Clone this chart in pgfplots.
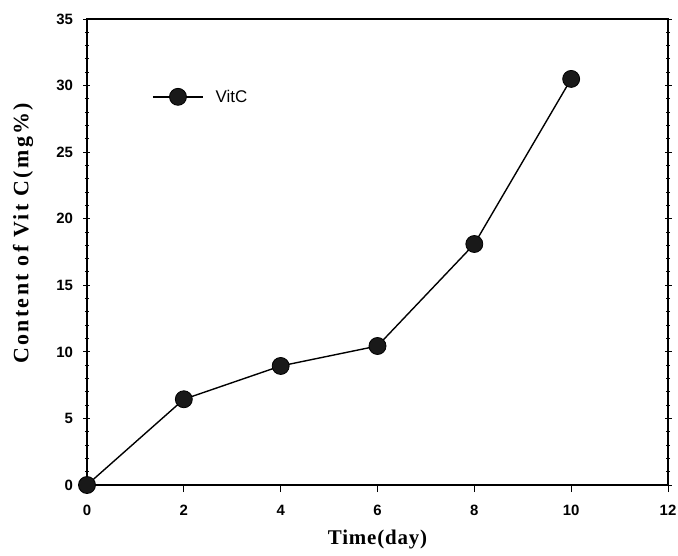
\documentclass[border=0pt]{standalone}
\usepackage{pgfplots}
\pgfplotsset{compat=1.18}
\usepackage{fontspec}
\setmainfont{Liberation Sans}
\newfontfamily\ylabfont[LetterSpace=11]{Liberation Serif}
\newfontfamily\xlabfont[LetterSpace=4]{Liberation Serif}
\begin{document}
\begin{tikzpicture}
\begin{axis}[name=ax, scale only axis, width=581bp, height=466bp,
  xmin=0, xmax=12, ymin=0, ymax=35,
  xtick={0,2,...,12}, ytick={0,5,...,35}, minor y tick num=4,
  xtick pos=bottom, ytick pos=both,
  xtick align=outside, ytick align=center,
  major tick length=7bp, minor tick length=4bp,
  every tick/.style={line width=1pt, black},
  axis line style={line width=1.3pt},
  tick label style={font=\bfseries\fontsize{15}{17}\selectfont},
  yticklabel style={xshift=-7bp},
  xticklabel style={yshift=-10bp},
  /pgf/number format/assume math mode=true,
  xlabel={Time(day)}, ylabel={Content of Vit C(mg\%)},
  xlabel style={font=\xlabfont\bfseries\fontsize{21}{23}\selectfont, at={(rel axis cs:0.5,-0.118)}, anchor=center},
  ylabel style={font=\ylabfont\bfseries\fontsize{22}{24}\selectfont, at={(rel axis cs:-0.11,0.54)}, anchor=center},
  legend style={draw=none, fill=none, at={(rel axis cs:0.112,0.833)}, anchor=west, inner sep=0pt,
    font=\fontsize{17}{19}\selectfont, /tikz/every even column/.append style={column sep=0pt}},
  legend cell align=left,
  legend image code/.code={\draw[mark repeat=2, mark phase=2, #1] plot coordinates {(0bp,0bp) (25bp,0bp) (50bp,0bp)}; \path (60bp,0bp);},
]
\addplot[black, line width=1.4pt, mark=*, mark size=8.5bp, mark options={fill=black!90, line width=0.8pt}]
  coordinates {(0,0) (2,6.44) (4,8.94) (6,10.44) (8,18.1) (10,30.5)};
\addlegendentry{VitC}
\end{axis}
\pgfresetboundingbox
\path ([shift={(-87bp,-71bp)}]ax.south west) rectangle ([shift={(10bp,19bp)}]ax.north east);
\end{tikzpicture}
\end{document}
